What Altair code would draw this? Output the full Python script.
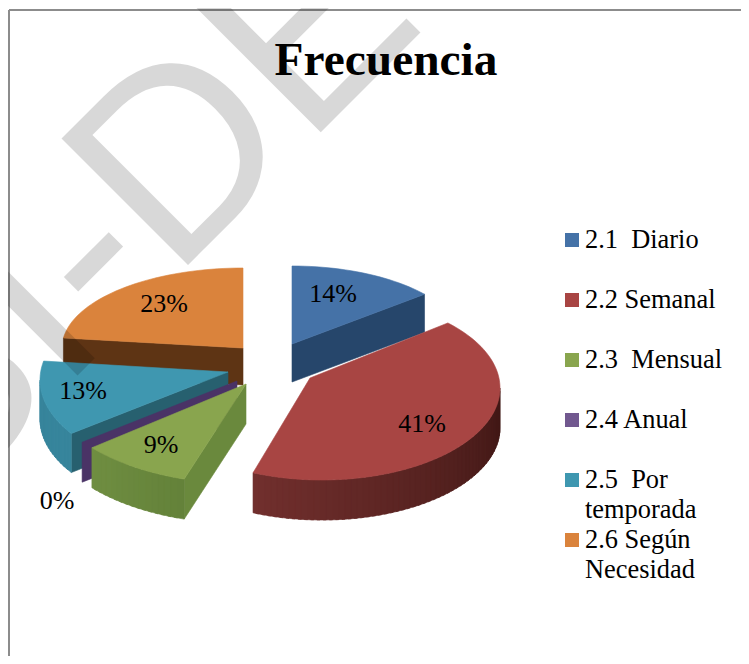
import math
import altair as alt
import pandas as pd

# ---- values ----
categories = ["2.1  Diario", "2.2 Semanal", "2.3  Mensual", "2.4 Anual", "2.5  Por temporada", "2.6 Según Necesidad"]
values = [14, 41, 9, 0, 13, 23]
percent_labels = ["14%", "41%", "9%", "0%", "13%", "23%"]
top_colors = ["#4572A7", "#A84543", "#89A54E", "#71588F", "#3F97B0", "#DA833C"]
legend_lines = [["2.1\u00a0\u00a0Diario"], ["2.2 Semanal"], ["2.3\u00a0\u00a0Mensual"], ["2.4 Anual"], ["2.5\u00a0\u00a0Por", "temporada"], ["2.6 Según", "Necesidad"]]
title_text = "Frecuencia"
watermark_text = "SI-DE"

# ---- layout of the exploded, tilted pie (screen units) ----
# apex, ellipse centre, radii, correction of start / end angle, depth
geometry = {
    0: dict(apex=(292, 344), c=(292, 344), r=(172, 78), d=(0, 0), depth=38, wall="#26466B", wall2="#26466B", cut_end=True),
    1: dict(apex=(310, 378), c=(322, 388), r=(178, 92), d=(-5.4, 4.8), depth=40, wall="#3F1715", wall2="#712F2D"),
    2: dict(apex=(246, 384), c=(246, 384), r=(200, 100), d=(0, 0), depth=40, wall="#64823A", wall2="#6F8E41", cut_start=True),
    3: dict(apex=(237, 381), c=(237, 381), r=(201, 96), d=(0, 0), depth=40, wall="#4A3366", wall2="#4A3366", cut_end=True),
    4: dict(apex=(228, 372), c=(220, 380), r=(180, 95), d=(5.3, 4.3), depth=39, wall="#37859C", wall2="#37859C", cut_start=True, cut="#27606F"),
    5: dict(apex=(243, 348), c=(243, 348), r=(181, 80), d=(0, 0), depth=37, wall="#5E3414", wall2="#5E3414", cut_end=False, cut_start=True),
}
draw_order = [5, 0, 1, 4, 3, 2]
label_pos = {0: (333, 302), 1: (422, 432), 2: (161, 453), 3: (57, 509), 4: (83, 399), 5: (164, 312)}


def mix(a, b, t):
    ca = [int(a[i:i + 2], 16) for i in (1, 3, 5)]
    cb = [int(b[i:i + 2], 16) for i in (1, 3, 5)]
    return "#%02x%02x%02x" % tuple(round(p + (q - p) * t) for p, q in zip(ca, cb))


rows = []
pid = 0


def poly(points, color):
    global pid
    for k, (x, y) in enumerate(points):
        rows.append(dict(id=pid, k=k, x=x, y=y, c=color))
    pid += 1


starts = {}
acc = 0
for i, v in enumerate(values):
    starts[i] = (acc * 3.6, (acc + v) * 3.6)
    acc += v

for i in draw_order:
    g = geometry[i]
    a0 = starts[i][0] + g["d"][0]
    a1 = starts[i][1] + g["d"][1]
    cx, cy = g["c"]
    rx, ry = g["r"]
    ax, ay = g["apex"]
    depth = g["depth"]

    def pt(a):
        r = math.radians(a)
        return (cx + rx * math.sin(r), cy - ry * math.cos(r))

    p0, p1 = pt(a0), pt(a1)
    cut = g.get("cut", g["wall"])
    # straight cut walls
    if g.get("cut_start"):
        poly([(ax, ay), p0, (p0[0], p0[1] + depth), (ax, ay + depth)], cut if i != 2 else "#6A893D")
    if g.get("cut_end"):
        poly([(ax, ay), p1, (p1[0], p1[1] + depth), (ax, ay + depth)], cut)
    # outer rim, in thin strips so that its shade can run along it
    lo, hi = max(a0, 90), min(a1, 270)
    if hi > lo:
        n = max(2, int((hi - lo) / 2))
        for s in range(n):
            b0 = lo + (hi - lo) * s / n
            b1 = lo + (hi - lo) * (s + 1.5) / n
            q0, q1 = pt(b0), pt(min(b1, hi))
            poly([q0, q1, (q1[0], q1[1] + depth), (q0[0], q0[1] + depth)], mix(g["wall"], g["wall2"], s / max(1, n - 1)))
    # top face
    if a1 > a0:
        n = max(2, int((a1 - a0) / 2))
        poly([(ax, ay)] + [pt(a0 + (a1 - a0) * s / n) for s in range(n + 1)], top_colors[i])

faces = pd.DataFrame(rows)

PLOT_W = 733
PLOT_H = 648
X = alt.Scale(domain=[8, 8 + PLOT_W], nice=False, zero=False)
Y = alt.Scale(domain=[8 + PLOT_H, 8], nice=False, zero=False)
xq = lambda f="x": alt.X(f"{f}:Q", scale=X, axis=None)
yq = lambda f="y": alt.Y(f"{f}:Q", scale=Y, axis=None)

face_layer = alt.Chart(faces).mark_line(interpolate="linear-closed", strokeWidth=0.6).encode(
    x=xq(), y=yq(), order="k:Q", detail="id:N",
    fill=alt.Fill("c:N", scale=None, legend=None),
    stroke=alt.Stroke("c:N", scale=None, legend=None),
)

border = pd.DataFrame([dict(x=9, x2=9, y=10, y2=8 + PLOT_H), dict(x=9, x2=8 + PLOT_W, y=10, y2=10)])
border_layer = alt.Chart(border).mark_rule(color="#8C8C8C", strokeWidth=2).encode(
    x=xq(), x2="x2:Q", y=yq(), y2="y2:Q")

pct = pd.DataFrame([dict(t=percent_labels[i], x=label_pos[i][0], y=label_pos[i][1]) for i in range(6)])
serif = "Liberation Serif"
pct_layer = alt.Chart(pct).mark_text(font=serif, fontSize=26, color="#000000", align="center", baseline="alphabetic").encode(
    x=xq(), y=yq(), text="t:N")

swatches = pd.DataFrame([dict(x=572, y=240 + 60 * i, c=top_colors[i], n=categories[i]) for i in range(6)])
swatch_layer = alt.Chart(swatches).mark_square(size=196, opacity=1).encode(
    x=xq(), y=yq(), color=alt.Color("c:N", scale=None, legend=None))

legend_rows = []
for i, lines in enumerate(legend_lines):
    for j, line in enumerate(lines):
        legend_rows.append(dict(t=line, x=585, y=248 + 60 * i + 30 * j))
legend_layer = alt.Chart(pd.DataFrame(legend_rows)).mark_text(
    font=serif, fontSize=26.4, color="#000000", align="left", baseline="alphabetic").encode(
    x=xq(), y=yq(), text="t:N")

title_layer = alt.Chart(pd.DataFrame([dict(t=title_text, x=386, y=75)])).mark_text(
    font=serif, fontSize=47.4, fontWeight="bold", color="#000000", align="center", baseline="alphabetic").encode(
    x=xq(), y=yq(), text="t:N")

mark_layer = alt.Chart(pd.DataFrame([dict(t=watermark_text, x=-62, y=515)])).mark_text(
    font="Liberation Sans", fontSize=260, angle=315, color="#000000", opacity=0.15,
    align="left", baseline="alphabetic").encode(x=xq(), y=yq(), text="t:N")

chart = alt.layer(border_layer, face_layer, pct_layer, swatch_layer, legend_layer, title_layer, mark_layer).properties(
    width=PLOT_W, height=PLOT_H, padding=0, autosize=alt.AutoSizeParams(type="none"),
).configure_view(stroke=None)

chart.save("out.html", embed_options={"renderer": "svg", "actions": False})
